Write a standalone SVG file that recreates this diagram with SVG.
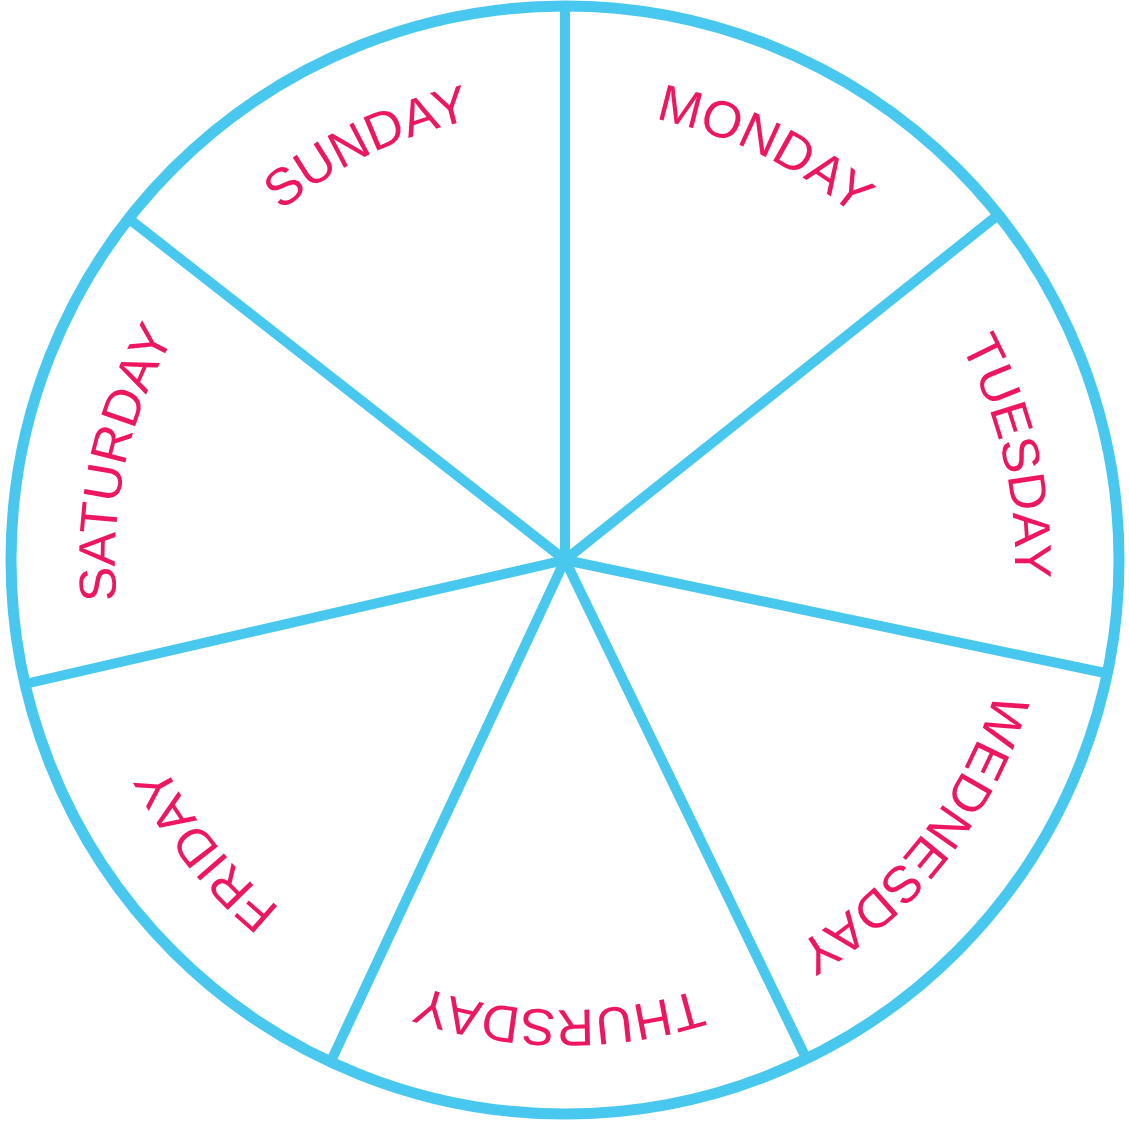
<svg xmlns="http://www.w3.org/2000/svg" width="1129" height="1124" viewBox="0 0 1129 1124">
<style>
.rim{fill:none;stroke:#48c8ee;stroke-width:11}
.spoke{stroke:#48c8ee;stroke-width:10;stroke-linecap:butt}
.lbl{font-family:"Liberation Sans",Arial,sans-serif;font-size:52px;fill:#ee1660;text-anchor:middle}
</style>
<defs>
<path id="arc" d="M 565,110 A 450,450 0 1 1 565,1010 A 450,450 0 1 1 565,110"/>
</defs>
<circle class="rim" cx="565" cy="560" r="554"/>
<g id="connectors">
<line class="spoke" x1="565" y1="560" x2="565" y2="6"/>
<line class="spoke" x1="565" y1="560" x2="998" y2="215"/>
<line class="spoke" x1="565" y1="560" x2="1105" y2="673"/>
<line class="spoke" x1="565" y1="560" x2="806" y2="1058"/>
<line class="spoke" x1="565" y1="560" x2="331" y2="1061"/>
<line class="spoke" x1="565" y1="560" x2="25" y2="684"/>
<line class="spoke" x1="565" y1="560" x2="128" y2="218"/>
</g>
<g id="monday"><text class="lbl"><textPath href="#arc" startOffset="203">MONDAY</textPath></text></g>
<g id="tuesday"><text class="lbl"><textPath href="#arc" startOffset="604">TUESDAY</textPath></text></g>
<g id="wednesday"><text class="lbl"><textPath href="#arc" startOffset="1006">WEDNESDAY</textPath></text></g>
<g id="thursday"><text class="lbl"><textPath href="#arc" startOffset="1419">THURSDAY</textPath></text></g>
<g id="friday"><text class="lbl"><textPath href="#arc" startOffset="1815">FRIDAY</textPath></text></g>
<g id="saturday"><text class="lbl"><textPath href="#arc" startOffset="2217">SATURDAY</textPath></text></g>
<g id="sunday"><text class="lbl"><textPath href="#arc" startOffset="2626">SUNDAY</textPath></text></g>
</svg>
